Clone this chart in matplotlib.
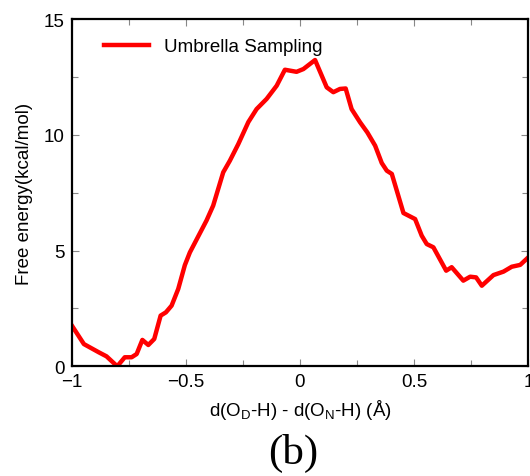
import matplotlib.pyplot as plt
import numpy as np
from matplotlib.ticker import MultipleLocator

# values
x = np.array([-1.0, -0.946, -0.88, -0.847, -0.80, -0.767, -0.737, -0.715, -0.69, -0.664,
              -0.638, -0.61, -0.587, -0.562, -0.533, -0.504, -0.482, -0.409, -0.38, -0.336,
              -0.307, -0.27, -0.226, -0.19, -0.146, -0.102, -0.066, -0.015, 0.015, 0.066,
              0.117, 0.146, 0.175, 0.2, 0.226, 0.263, 0.295, 0.329, 0.358, 0.38,
              0.402, 0.453, 0.504, 0.533, 0.555, 0.584, 0.64, 0.664, 0.715, 0.745,
              0.771, 0.796, 0.847, 0.891, 0.927, 0.964, 1.0])
y = np.array([1.78, 0.96, 0.6, 0.43, 0.0, 0.39, 0.39, 0.53, 1.14, 0.92,
              1.18, 2.19, 2.33, 2.62, 3.34, 4.37, 4.92, 6.3, 6.94, 8.38,
              8.88, 9.6, 10.55, 11.11, 11.55, 12.12, 12.81, 12.72, 12.84, 13.23,
              12.05, 11.84, 11.98, 12.0, 11.11, 10.54, 10.1, 9.53, 8.78, 8.45,
              8.31, 6.62, 6.36, 5.64, 5.28, 5.14, 4.13, 4.28, 3.7, 3.87,
              3.84, 3.48, 3.94, 4.09, 4.3, 4.38, 4.71])
xticks = [-1, -0.5, 0, 0.5, 1]
xticklabels = ['\u22121', '\u22120.5', '0', '0.5', '1']
yticks = [0, 5, 10, 15]

plt.rcParams['font.family'] = ['Liberation Sans', 'DejaVu Sans']
plt.rcParams['mathtext.fontset'] = 'custom'
plt.rcParams['mathtext.rm'] = 'Liberation Sans'

fig = plt.figure(figsize=(5.3, 4.77), dpi=100)
ax = fig.add_axes([0.135, 0.23, 0.862, 0.728])
ax.plot(x, y, color='#ff0000', lw=3.2, label='Umbrella Sampling')
ax.set_xlim(-1, 1)
ax.set_ylim(0, 15)
ax.set_xticks(xticks)
ax.set_xticklabels(xticklabels)
ax.set_yticks(yticks)
ax.xaxis.set_minor_locator(MultipleLocator(0.25))
ax.yaxis.set_minor_locator(MultipleLocator(2.5))
ax.tick_params(which='both', direction='in', top=True, right=True, labelsize=13.5,
               color='#888888', width=0.8)
ax.tick_params(which='major', length=5, pad=5)
ax.tick_params(which='minor', length=4)
for s in ax.spines.values():
    s.set_linewidth(1.6)

ax.set_xlabel('d(O$_\\mathregular{D}$-H) - d(O$_\\mathregular{N}$-H) (Å)', fontsize=13.5, labelpad=5)
ax.set_ylabel('Free energy(kcal/mol)', fontsize=13.5, labelpad=8)
ax.legend(loc='upper left', frameon=False, fontsize=13.5, handlelength=2.4,
          handletextpad=0.8, bbox_to_anchor=(0.035, 0.993))
fig.text(0.553, 0.028, '(b)', fontsize=31, family='Liberation Serif', ha='center')

fig.savefig('out.png', dpi=100)
